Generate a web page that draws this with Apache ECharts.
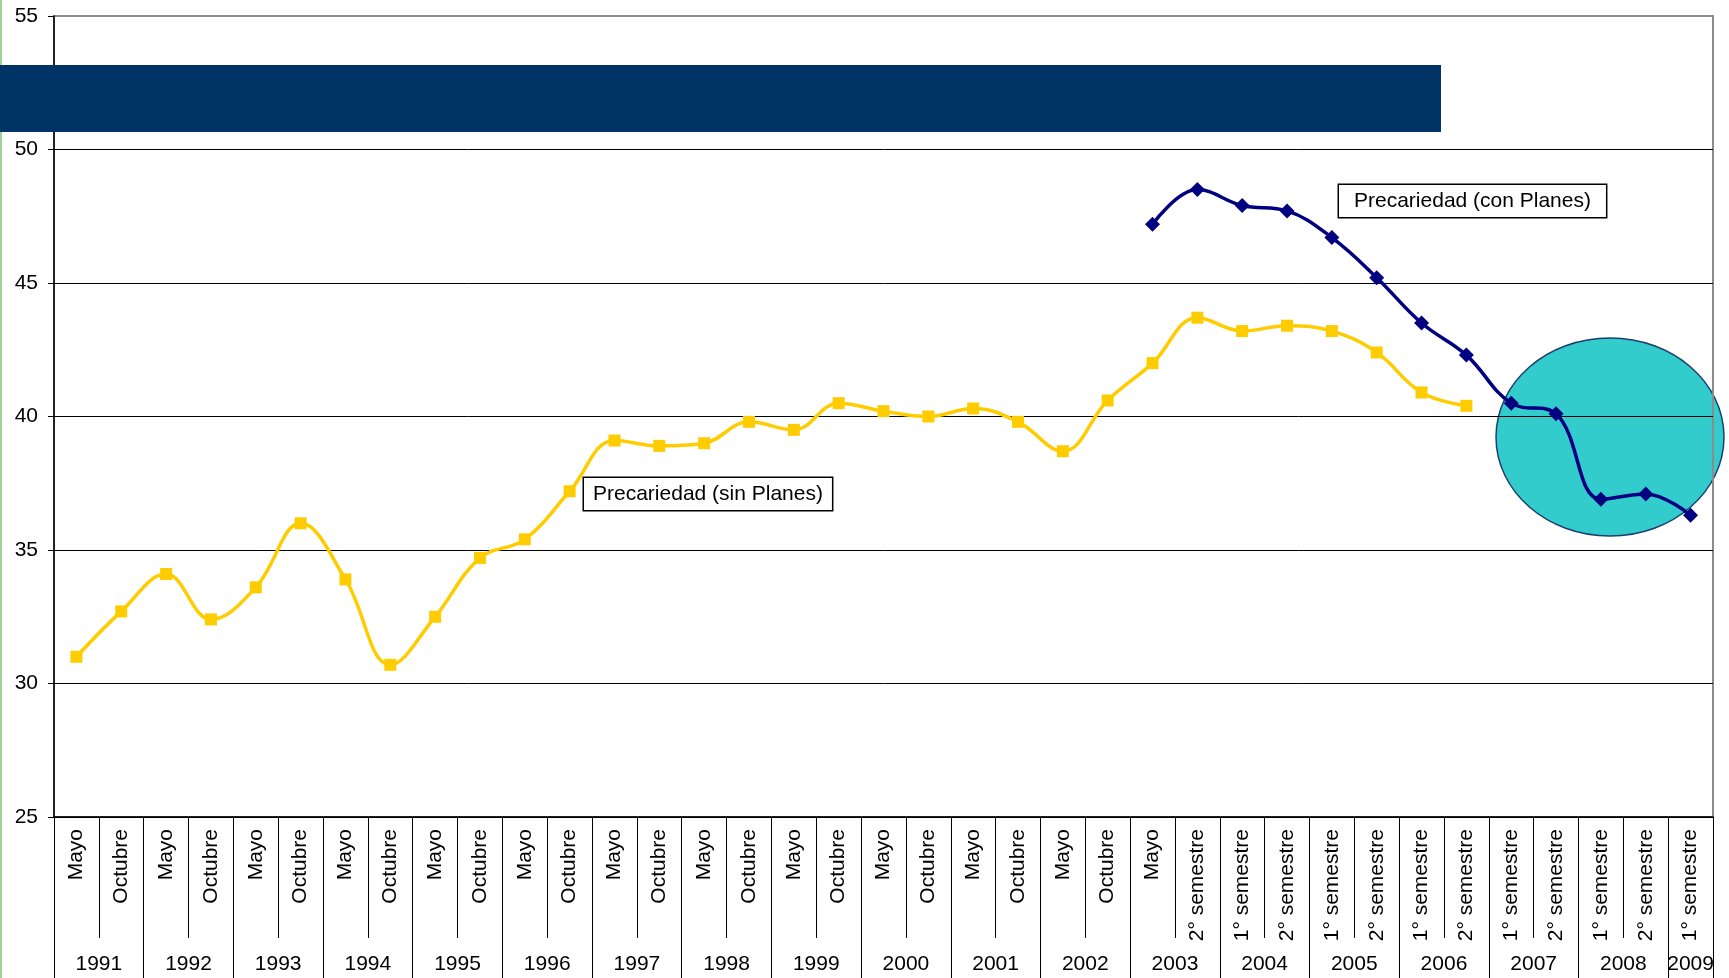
<!DOCTYPE html>
<html>
<head>
<meta charset="utf-8">
<title>Precariedad</title>
<script src="https://cdn.jsdelivr.net/npm/echarts@6/dist/echarts.min.js"></script>
<style>
  html, body { margin: 0; padding: 0; background: #fff; }
  #chart { width: 1729px; height: 978px; }
</style>
</head>
<body>
<div id="chart"></div>
<script>
// periodos (eje inferior)
const periods = [
  'Mayo', 'Octubre', 'Mayo', 'Octubre', 'Mayo', 'Octubre', 'Mayo', 'Octubre',
  'Mayo', 'Octubre', 'Mayo', 'Octubre', 'Mayo', 'Octubre', 'Mayo', 'Octubre',
  'Mayo', 'Octubre', 'Mayo', 'Octubre', 'Mayo', 'Octubre', 'Mayo', 'Octubre',
  'Mayo', '2° semestre', '1° semestre', '2° semestre', '1° semestre', '2° semestre',
  '1° semestre', '2° semestre', '1° semestre', '2° semestre', '1° semestre', '2° semestre',
  '1° semestre'
];

// años y cuántos periodos tiene cada uno
const years = ['1991', '1992', '1993', '1994', '1995', '1996', '1997', '1998', '1999', '2000',
  '2001', '2002', '2003', '2004', '2005', '2006', '2007', '2008', '2009'];
const yearSpans = [2, 2, 2, 2, 2, 2, 2, 2, 2, 2, 2, 2, 2, 2, 2, 2, 2, 2, 1];

// Precariedad (sin Planes)
const sinPlanes = [31.0, 32.7, 34.1, 32.4, 33.6, 36.0, 33.9, 30.7, 32.5, 34.7, 35.4, 37.2,
  39.1, 38.9, 39.0, 39.8, 39.5, 40.5, 40.2, 40.0, 40.3, 39.8, 38.7, 40.6,
  42.0, 43.7, 43.2, 43.4, 43.2, 42.4, 40.9, 40.4];

// Precariedad (con Planes), empieza en Mayo 2003
const conPlanesStart = 24;
const conPlanes = [47.2, 48.5, 47.9, 47.7, 46.7, 45.2, 43.5, 42.3, 40.5, 40.1, 36.9, 37.1, 36.3];

const yTicks = { min: 25, max: 55, step: 5 };

const FONT = 'Liberation Sans, Arial, sans-serif';

// eje de años: posiciones en medios periodos (boundaryGap false)
const halfCount = periods.length * 2 + 1;
const yearAxisData = new Array(halfCount).fill('');
const yearEdges = {};
let pos = 0;
years.forEach((y, i) => {
  yearEdges[pos * 2] = true;
  yearAxisData[pos * 2 + yearSpans[i]] = y;
  pos += yearSpans[i];
});
yearEdges[pos * 2] = true;

const conPlanesData = new Array(conPlanesStart).fill(null).concat(conPlanes);

// líneas de división: la de arriba (55) en gris como el borde
const splitColors = ['#000', '#000', '#000', '#000', '#000', '#000', '#8c8c8c'];

const chart = echarts.init(document.getElementById('chart'));

const option = {
  backgroundColor: '#fff',
  animation: false,
  textStyle: { fontFamily: FONT },
  grid: {
    left: 54,
    right: 16,
    top: 16,
    bottom: 161,
    show: true,
    borderColor: '#8c8c8c',
    borderWidth: 2
  },
  xAxis: [
    {
      type: 'category',
      data: periods,
      boundaryGap: true,
      axisLine: { lineStyle: { color: '#000', width: 1.5 } },
      axisTick: { show: true, interval: 0, length: 121, lineStyle: { color: '#000', width: 1 } },
      axisLabel: {
        interval: 0,
        rotate: 90,
        margin: 12,
        color: '#000',
        fontSize: 21,
        fontFamily: FONT
      },
      splitLine: { show: false }
    },
    {
      type: 'category',
      data: yearAxisData,
      boundaryGap: false,
      position: 'bottom',
      axisLine: { show: false },
      axisTick: {
        show: true,
        length: 162,
        interval: function (index) { return !!yearEdges[index]; },
        lineStyle: { color: '#000', width: 1 }
      },
      axisLabel: {
        interval: 0,
        margin: 137,
        color: '#000',
        fontSize: 21,
        fontFamily: FONT
      },
      splitLine: { show: false }
    }
  ],
  yAxis: {
    type: 'value',
    min: yTicks.min,
    max: yTicks.max,
    interval: yTicks.step,
    axisLine: { show: true, lineStyle: { color: '#000', width: 1.5 } },
    axisTick: { show: true, length: 6, lineStyle: { color: '#000' } },
    axisLabel: { color: '#000', fontSize: 21, margin: 16, fontFamily: FONT },
    splitLine: { show: true, lineStyle: { color: splitColors, width: 1 } }
  },
  graphic: [
    // borde verde a la izquierda
    { type: 'rect', left: 0, top: 0, z: 10, shape: { width: 2, height: 978 }, style: { fill: '#9fd19a' } },
    // franja azul
    { type: 'rect', x: 0, y: 65, z: 10, shape: { width: 1441, height: 67 }, style: { fill: '#003466' } },
    // elipse destacada
    {
      type: 'ellipse', z: -1,
      shape: { cx: 1610, cy: 437, rx: 114, ry: 99 },
      style: { fill: '#33cccc', stroke: '#1b3f6e', lineWidth: 1.5 }
    },
    {
      type: 'text', x: 1339, y: 185, z: 10,
      style: {
        text: 'Precariedad (con Planes)',
        font: '21px ' + FONT,
        fill: '#000',
        backgroundColor: '#fff',
        borderColor: '#000',
        borderWidth: 1.5,
        padding: [6, 15, 5, 15]
      }
    },
    {
      type: 'text', x: 584, y: 478, z: 10,
      style: {
        text: 'Precariedad (sin Planes)',
        font: '21px ' + FONT,
        fill: '#000',
        backgroundColor: '#fff',
        borderColor: '#000',
        borderWidth: 1.5,
        padding: [6, 9, 5, 9]
      }
    }
  ],
  series: [
    {
      name: 'Precariedad (sin Planes)',
      type: 'line',
      data: sinPlanes,
      smooth: 0.4,
      symbol: 'rect',
      symbolSize: 12,
      lineStyle: { color: '#ffcc00', width: 3.5 },
      itemStyle: { color: '#ffcc00' },
      z: 3
    },
    {
      name: 'Precariedad (con Planes)',
      type: 'line',
      data: conPlanesData,
      smooth: 0.4,
      symbol: 'diamond',
      symbolSize: 15,
      lineStyle: { color: '#000080', width: 3.5 },
      itemStyle: { color: '#000080' },
      z: 4
    }
  ]
};

chart.setOption(option);
</script>
</body>
</html>
